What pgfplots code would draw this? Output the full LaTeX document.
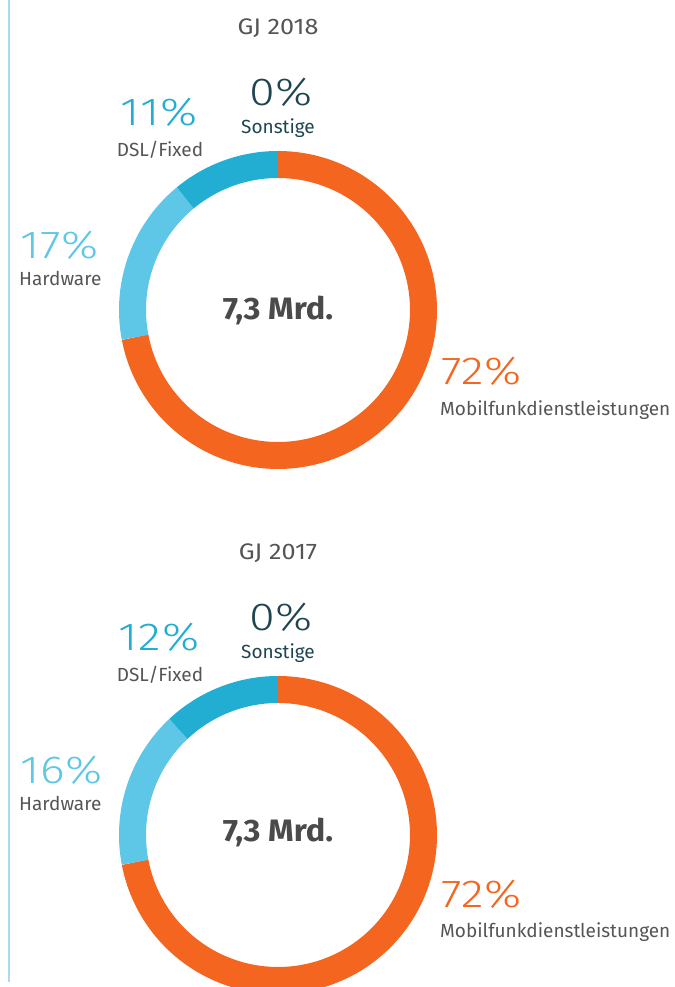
\documentclass[border=0pt]{standalone}
\usepackage{pgfplots}
\pgfplotsset{compat=1.18}
\usepackage{pgfplotstable}
\usepackage{fontspec}
\setmainfont{Fira Sans}
\newfontfamily\lightfont{Fira Sans Light}[FakeStretch=1.2, LetterSpace=2]
\newfontfamily\widefont{Fira Sans}[FakeStretch=1.12]
\newfontfamily\boldwide{Fira Sans Bold}[FakeStretch=1.05]
\definecolor{cOrange}{HTML}{F4661F}
\definecolor{cLight}{HTML}{5EC6E6}
\definecolor{cDark}{HTML}{22ADD2}
\definecolor{cTeal}{HTML}{1E4550}
\definecolor{cGrey}{HTML}{555555}
\definecolor{cBold}{HTML}{4A4A4A}
\definecolor{cLine}{HTML}{A7DDEF}
\newcommand{\lab}{\fontsize{19bp}{21bp}\selectfont}
\newcommand{\gj}{\widefont\fontsize{22.5bp}{24bp}\selectfont}
\newcommand{\pct}{\lightfont\fontsize{39bp}{41bp}\selectfont}
\newcommand{\bigtxt}{\boldwide\fontsize{31bp}{33bp}\selectfont}
% shares in percent: Mobilfunk, Hardware, DSL/Fixed, Sonstige
\pgfplotstableread{
year mobil hardware dsl sonstige
2018 72 17 11 0
2017 72 16 12 0
}\shares
\begin{document}
\begin{tikzpicture}
\begin{axis}[name=ax, x=1bp, y=1bp, xmin=0, xmax=675, ymin=0, ymax=987,
  scale only axis, hide axis, clip=true, trig format=deg]
\draw[cLine, line width=2bp] (axis cs:9,987) -- (axis cs:9,5);
% ---- GJ 2018 (centre 278,677) ----
\addplot[cOrange, line width=27bp, domain={90-3.6*72}:90, samples=160]
  ({278+145.5*cos(x)},{677+145.5*sin(x)});
\addplot[cLight, line width=27bp, domain={90-3.6*(72+17)}:{90-3.6*72}, samples=60]
  ({278+145.5*cos(x)},{677+145.5*sin(x)});
\addplot[cDark, line width=27bp, domain={90-3.6*(72+17+11)}:{90-3.6*(72+17)}, samples=50]
  ({278+145.5*cos(x)},{677+145.5*sin(x)});
% ---- GJ 2017 (centre 278,152) ----
\addplot[cOrange, line width=27bp, domain={90-3.6*72}:90, samples=160]
  ({278+145.5*cos(x)},{152+145.5*sin(x)});
\addplot[cLight, line width=27bp, domain={90-3.6*(72+16)}:{90-3.6*72}, samples=60]
  ({278+145.5*cos(x)},{152+145.5*sin(x)});
\addplot[cDark, line width=27bp, domain={90-3.6*(72+16+12)}:{90-3.6*(72+16)}, samples=50]
  ({278+145.5*cos(x)},{152+145.5*sin(x)});
% ---- labels 2018 ----
\node[cGrey, font=\gj] at (axis cs:278,959) {GJ 2018};
\node[cTeal, font=\pct] at (axis cs:281,895) {0\%};
\node[cTeal, font=\lab] at (axis cs:278,859) {Sonstige};
\node[cDark, font=\pct] at (axis cs:159,875) {11\%};
\node[cGrey, font=\lab] at (axis cs:160,837) {DSL/Fixed};
\node[cLight, font=\pct, anchor=west, inner sep=0pt] at (axis cs:20,742) {17\%};
\node[cGrey, font=\lab, anchor=west, inner sep=0pt] at (axis cs:19,709) {Hardware};
\node[cBold, font=\bigtxt] at (axis cs:278,677) {7,3 Mrd.};
\node[cOrange, font=\pct, anchor=west, inner sep=0pt] at (axis cs:441,616) {72\%};
\node[cGrey, font=\lab, anchor=west, inner sep=0pt] at (axis cs:440,577) {Mobilfunkdienstleistungen};
% ---- labels 2017 ----
\node[cGrey, font=\gj] at (axis cs:278,434) {GJ 2017};
\node[cTeal, font=\pct] at (axis cs:281,370) {0\%};
\node[cTeal, font=\lab] at (axis cs:278,334) {Sonstige};
\node[cDark, font=\pct] at (axis cs:159,350) {12\%};
\node[cGrey, font=\lab] at (axis cs:160,312) {DSL/Fixed};
\node[cLight, font=\pct, anchor=west, inner sep=0pt] at (axis cs:20,217) {16\%};
\node[cGrey, font=\lab, anchor=west, inner sep=0pt] at (axis cs:19,184) {Hardware};
\node[cBold, font=\bigtxt] at (axis cs:278,155) {7,3 Mrd.};
\node[cOrange, font=\pct, anchor=west, inner sep=0pt] at (axis cs:441,93) {72\%};
\node[cGrey, font=\lab, anchor=west, inner sep=0pt] at (axis cs:440,55) {Mobilfunkdienstleistungen};
\end{axis}
\pgfresetboundingbox
\path (ax.south west) rectangle (ax.north east);
\end{tikzpicture}
\end{document}
